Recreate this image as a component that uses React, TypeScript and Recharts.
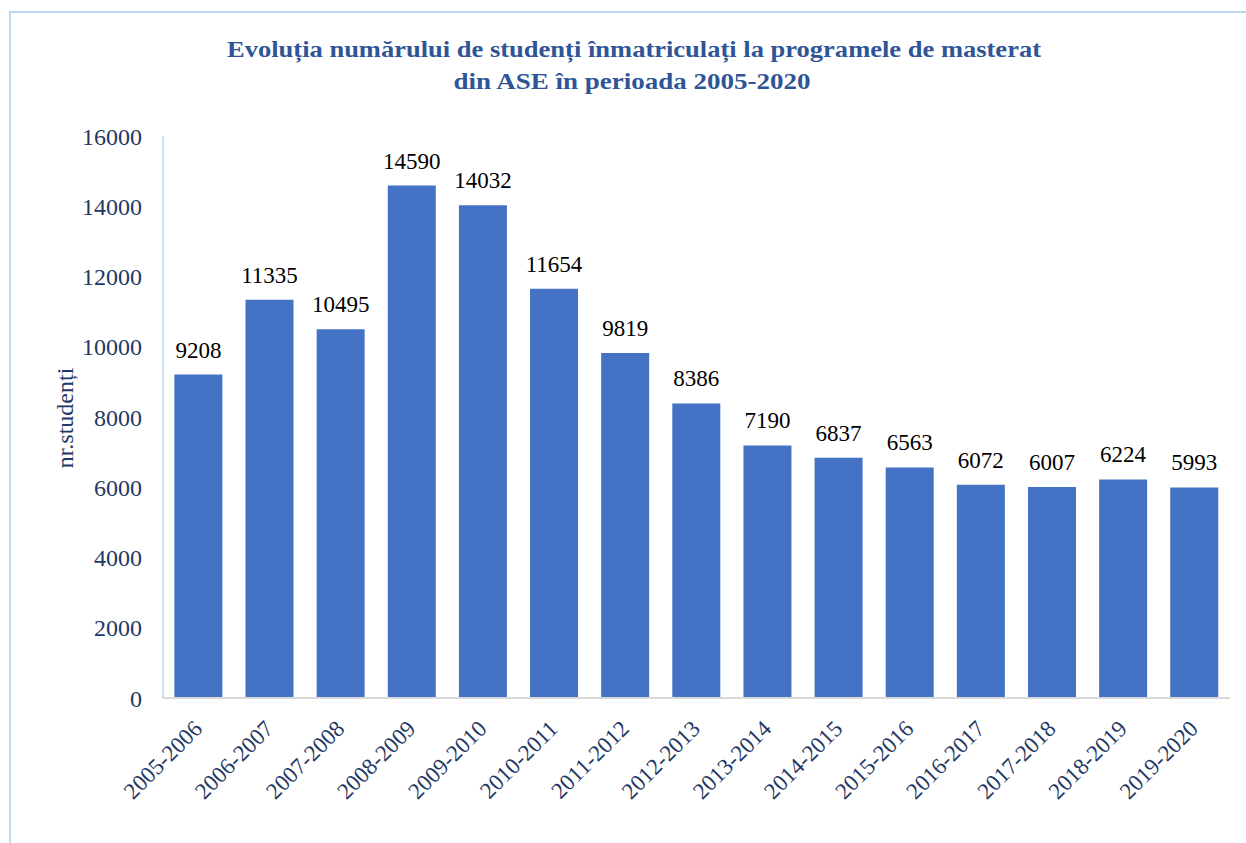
import React from 'react';
import { BarChart, Bar, XAxis, YAxis, LabelList } from 'recharts';

const years = [
  '2005-2006', '2006-2007', '2007-2008', '2008-2009', '2009-2010',
  '2010-2011', '2011-2012', '2012-2013', '2013-2014', '2014-2015',
  '2015-2016', '2016-2017', '2017-2018', '2018-2019', '2019-2020',
];

const students = [9208, 11335, 10495, 14590, 14032, 11654, 9819, 8386, 7190, 6837, 6563, 6072, 6007, 6224, 5993];

const yTicks = [0, 2000, 4000, 6000, 8000, 10000, 12000, 14000, 16000];

const chartData = years.map((name, i) => ({ name, value: students[i] }));

const FONT = '"Liberation Serif", "Times New Roman", serif';
const NAVY = '#1F3864';

const XTick = (props: any) => {
  const { x, y, payload } = props;
  const bx = x + 5;
  const by = y + 24;
  return (
    <text
      x={bx}
      y={by}
      transform={`rotate(-45, ${bx}, ${by})`}
      textAnchor="end"
      fill={NAVY}
      fontSize={23}
      fontFamily={FONT}
    >
      {payload.value}
    </text>
  );
};

const YLabel = () => {
  const cy = 418;
  const cx = 73;
  return (
    <text
      x={cx}
      y={cy}
      transform={`rotate(-90, ${cx}, ${cy})`}
      textAnchor="middle"
      fill={NAVY}
      fontSize={24}
      fontFamily={FONT}
    >
      nr.studenți
    </text>
  );
};

const ValueLabel = (props: any) => {
  const { x, y, width, value } = props;
  return (
    <text
      x={x + width / 2}
      y={y - 17}
      textAnchor="middle"
      fill="#000000"
      fontSize={23}
      fontFamily={FONT}
    >
      {value}
    </text>
  );
};

const App: React.FC = () => {
  return (
    <div style={{ position: 'absolute', left: 0, top: 0, width: 1246, height: 843, overflow: 'hidden', background: '#fff' }}>
      <div
        style={{
          position: 'absolute',
          left: 9,
          top: 11,
          width: 1260,
          height: 860,
          border: '2px solid #BDD7EE',
          boxSizing: 'border-box',
        }}
      />
      <svg width={1246} height={110} style={{ position: 'absolute', left: 0, top: 0 }}>
        <text
          x={634}
          y={57}
          textAnchor="middle"
          fill="#2F5597"
          fontSize={24}
          fontWeight="bold"
          fontFamily={FONT}
          textLength={814}
          lengthAdjust="spacingAndGlyphs"
        >
          Evoluția numărului de studenți înmatriculați la programele de masterat
        </text>
        <text
          x={632}
          y={89}
          textAnchor="middle"
          fill="#2F5597"
          fontSize={24}
          fontWeight="bold"
          fontFamily={FONT}
          textLength={357}
          lengthAdjust="spacingAndGlyphs"
        >
          din ASE în perioada 2005-2020
        </text>
      </svg>
      <div style={{ position: 'absolute', left: 0, top: 0 }}>
        <BarChart
          width={1246}
          height={843}
          data={chartData}
          margin={{ top: 136, right: 16, bottom: 0, left: 0 }}
          barCategoryGap="16%"
        >
          <XAxis
            dataKey="name"
            interval={0}
            tick={<XTick />}
            tickLine={false}
            axisLine={{ stroke: '#D9D9D9', strokeWidth: 2 }}
            height={145}
          />
          <YAxis
            width={163}
            domain={[0, 16000]}
            ticks={yTicks}
            tickLine={false}
            tickSize={0}
            tickMargin={21}
            axisLine={{ stroke: '#BDD7EE', strokeWidth: 1.5 }}
            tick={{ fill: NAVY, fontSize: 24, fontFamily: FONT }}
            label={<YLabel />}
          />
          <Bar dataKey="value" fill="#4472C4" isAnimationActive={false}>
            <LabelList dataKey="value" content={<ValueLabel />} />
          </Bar>
        </BarChart>
      </div>
    </div>
  );
};

export default App;
